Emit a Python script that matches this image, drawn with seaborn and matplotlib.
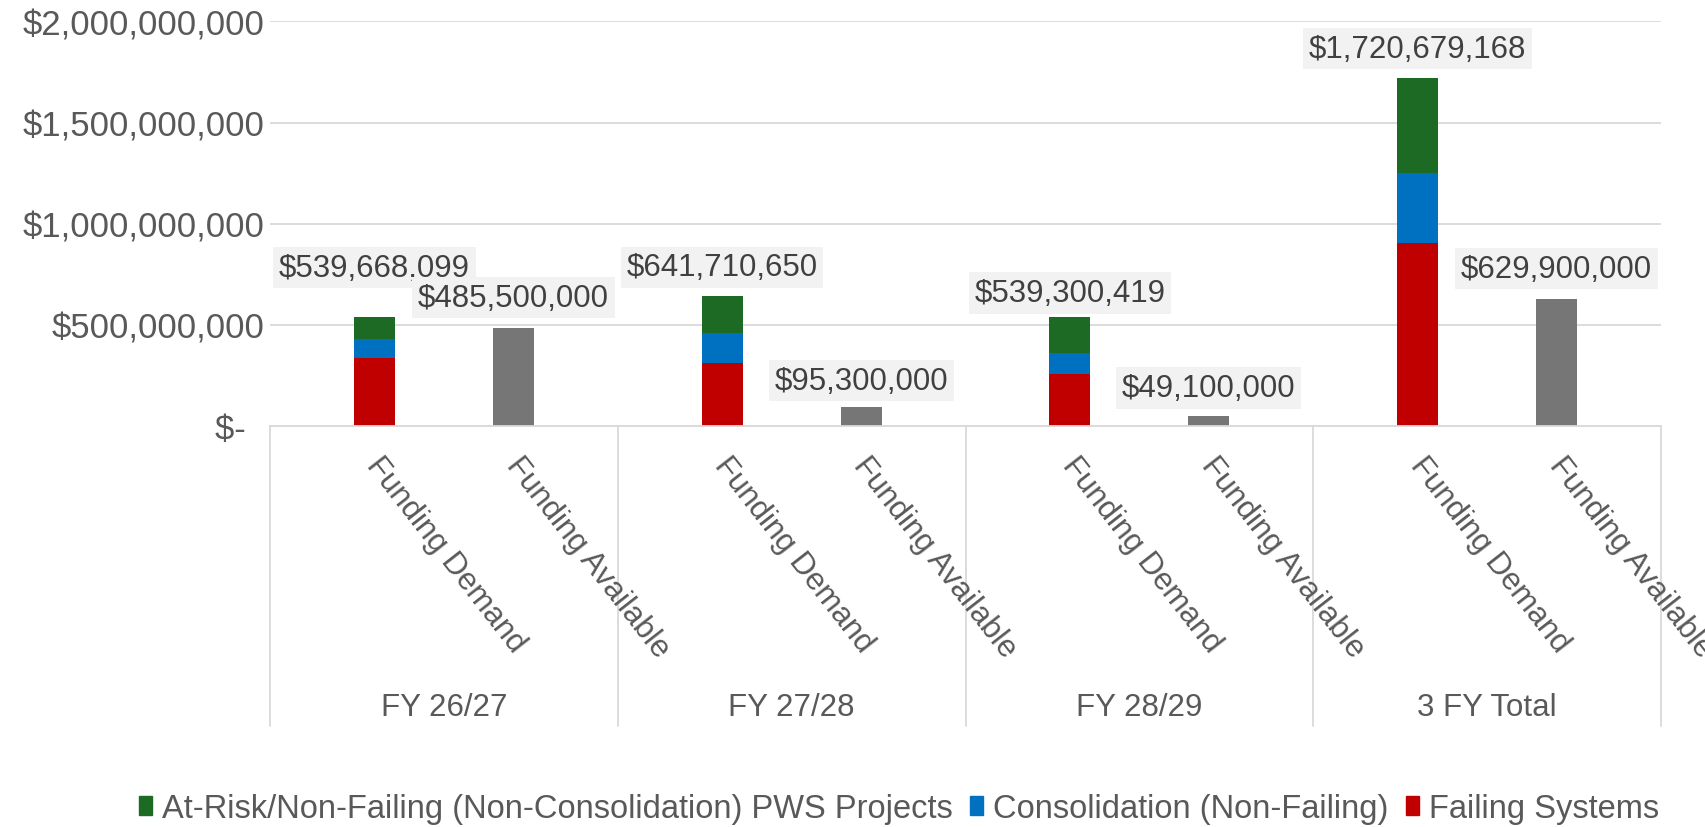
import numpy as np
import pandas as pd
import seaborn as sns
import matplotlib.pyplot as plt
from matplotlib.patches import Patch
from matplotlib.ticker import FuncFormatter, MultipleLocator

# data
groups = ['FY 26/27', 'FY 27/28', 'FY 28/29', '3 FY Total']
bar_names = ['Funding Demand', 'Funding Available']
series_names = ['At-Risk/Non-Failing (Non-Consolidation) PWS Projects',
                'Consolidation (Non-Failing)', 'Failing Systems']

failing = [335_000_000, 313_000_000, 257_000_000, 905_000_000]
consolidation = [95_000_000, 146_000_000, 103_000_000, 344_000_000]
at_risk = [109_668_099, 182_710_650, 179_300_419, 471_679_168]
available = [485_500_000, 95_300_000, 49_100_000, 629_900_000]

# style
c_green, c_blue, c_red, c_gray = '#1D6A25', '#0070C0', '#C00000', '#767676'
grid_c = '#D9D9D9'
txt_c = '#595959'
lbl_c = '#404040'
bar_w = 0.118
demand_off, avail_off = 0.30, 0.70
# pixel nudges of the value labels above bar tops (Excel moved a few by hand)
demand_nudge = [49, 29, 24, 29]
avail_nudge = [30, 26, 28, 30]

sns.set_style('white')
plt.rcParams['font.family'] = ['Liberation Sans', 'DejaVu Sans']

fig = plt.figure(figsize=(17.06, 8.28), dpi=100)
ax = fig.add_axes([0.1583, 0.4843, 0.8153, 0.4887])

x_demand = np.arange(len(groups)) + demand_off
x_avail = np.arange(len(groups)) + avail_off

df = pd.DataFrame({'x_demand': x_demand, 'x_avail': x_avail,
                   'failing': failing, 'consolidation': consolidation,
                   'at_risk': at_risk, 'available': available})
df['fail_cons'] = df['failing'] + df['consolidation']
df['total'] = df['fail_cons'] + df['at_risk']

common = dict(native_scale=True, width=bar_w, saturation=1, errorbar=None,
              linewidth=0, ax=ax)
sns.barplot(data=df, x='x_demand', y='total', color=c_green, **common)
sns.barplot(data=df, x='x_demand', y='fail_cons', color=c_blue, **common)
sns.barplot(data=df, x='x_demand', y='failing', color=c_red, **common)
sns.barplot(data=df, x='x_avail', y='available', color=c_gray, **common)

ax.set_xlim(0, len(groups))
ax.set_ylim(0, 2_000_000_000)
ax.yaxis.set_major_locator(MultipleLocator(500_000_000))
ax.yaxis.set_major_formatter(FuncFormatter(
    lambda v, p: '$-  ' if v == 0 else f'${v:,.0f}'))
ax.grid(axis='y', color=grid_c, linewidth=1.3)
ax.set_axisbelow(True)
for s in ['top', 'right', 'left']:
    ax.spines[s].set_visible(False)
ax.spines['bottom'].set_color(grid_c)
ax.spines['bottom'].set_linewidth(1.3)
ax.tick_params(axis='y', length=0, pad=4, labelsize=25, labelcolor=txt_c)
ax.set_xticks([])
ax.set_xlabel('')
ax.set_ylabel('')

# value labels
box = dict(boxstyle='square,pad=0.18', fc='#F2F2F2', ec='none')
for i in range(len(groups)):
    tot = df['total'][i]
    ax.annotate(f'${tot:,.0f}', (x_demand[i], tot),
                xytext=(0, demand_nudge[i] * 0.72), textcoords='offset points',
                ha='center', va='center', fontsize=22.5, color=lbl_c, bbox=box)
    ax.annotate(f'${available[i]:,.0f}', (x_avail[i], available[i]),
                xytext=(0, avail_nudge[i] * 0.72), textcoords='offset points',
                ha='center', va='center', fontsize=22.5, color=lbl_c, bbox=box)

# two-level category axis
tr = ax.get_xaxis_transform()
for i, g in enumerate(groups):
    for xx, name in zip([x_demand[i], x_avail[i]], bar_names):
        ax.text(xx + 0.028, -0.06, name, transform=tr, rotation=-52,
                rotation_mode='anchor', ha='left', va='top',
                fontsize=22.5, color=txt_c)
    ax.text(i + 0.5, -0.694, g, transform=tr, ha='center', va='center',
            fontsize=22.5, color=txt_c)
for b in range(len(groups) + 1):
    ax.plot([b, b], [0, -0.741], transform=tr, color=grid_c, lw=1.3,
            clip_on=False)

handles = [Patch(color=c) for c in [c_green, c_blue, c_red]]
fig.legend(handles, series_names, loc='center', bbox_to_anchor=(0.527, 0.022),
           ncol=3, frameon=False, fontsize=23.5, labelcolor=txt_c,
           handlelength=0.4, handleheight=0.5, handletextpad=0.3,
           columnspacing=0.55)

fig.savefig('out.png', dpi=100)
